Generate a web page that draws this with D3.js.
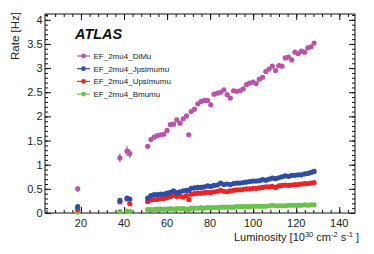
<!DOCTYPE html>
<html>
<head>
<meta charset="utf-8">
<script src="https://cdn.jsdelivr.net/npm/d3@7"></script>
<style>
  body { margin: 0; background: #fff; }
  text { font-family: "Liberation Sans", Arial, sans-serif; }
</style>
</head>
<body>
<div id="chart"></div>
<script>
// Data
const lumi = [18.5, 38.1, 41.4, 42.7,
  51.0, 52.5, 54.0, 55.5, 57.0, 58.5, 60.0, 61.5, 63.0, 64.5, 66.0, 67.5, 69.0, 70.1, 71.2, 72.7,
  74.3, 75.8, 77.3, 78.8, 80.3, 81.8, 83.4, 84.9, 86.4, 87.9, 89.4, 90.9, 92.4, 93.9, 95.4, 96.9,
  98.4, 99.9, 101.4, 102.9, 104.4, 105.9, 107.4, 108.9, 110.4, 111.9, 113.4, 114.9, 116.4, 117.9,
  119.4, 120.9, 122.4, 123.9, 125.4, 126.9, 128.3];

const diMu = [0.50, 1.14, 1.28, 1.23,
  1.38, 1.52, 1.57, 1.60, 1.62, 1.63, 1.71, 1.83, 1.84, 1.93, 1.86, 1.95, 2.01, 1.62, 2.10, 2.15,
  2.26, 2.31, 2.33, 2.33, 2.24, 2.46, 2.48, 2.50, 2.55, 2.45, 2.38, 2.53, 2.52, 2.53, 2.57, 2.66,
  2.69, 2.71, 2.68, 2.77, 2.81, 2.93, 2.98, 3.04, 2.95, 3.05, 3.04, 3.21, 3.23, 3.17,
  3.33, 3.30, 3.35, 3.33, 3.42, 3.44, 3.52];
// visible error bars on the low-lumi DiMu points only
const diMuErr = [0.06, 0.09, 0.10, 0.09];

const jpsi = [0.13, 0.26, 0.31, 0.29,
  0.31, 0.36, 0.38, 0.38, 0.39, 0.39, 0.41, 0.43, 0.46, 0.42, 0.44, 0.46, 0.47, 0.47, 0.51, 0.52,
  0.53, 0.53, 0.54, 0.56, 0.55, 0.57, 0.58, 0.62, 0.59, 0.60, 0.59, 0.61, 0.62, 0.62, 0.63, 0.64,
  0.65, 0.66, 0.66, 0.67, 0.69, 0.68, 0.70, 0.72, 0.71, 0.73, 0.75, 0.77, 0.76, 0.78,
  0.78, 0.79, 0.79, 0.81, 0.82, 0.84, 0.86];

const upsi = [0.07, 0.23, 0.29, 0.19,
  0.24, 0.27, 0.28, 0.28, 0.30, 0.30, 0.32, 0.34, 0.36, 0.34, 0.35, 0.33, 0.36, 0.28, 0.39, 0.40,
  0.41, 0.41, 0.42, 0.43, 0.42, 0.44, 0.45, 0.47, 0.45, 0.44, 0.46, 0.47, 0.48, 0.48, 0.49, 0.50,
  0.50, 0.51, 0.51, 0.52, 0.53, 0.54, 0.54, 0.55, 0.53, 0.56, 0.57, 0.58, 0.57, 0.58,
  0.59, 0.59, 0.60, 0.61, 0.61, 0.62, 0.63];

const bmumu = [0.02, 0.03, 0.04, 0.03,
  0.07, 0.07, 0.07, 0.08, 0.08, 0.08, 0.08, 0.09, 0.08, 0.09, 0.09, 0.09, 0.08, 0.07, 0.10, 0.10,
  0.10, 0.11, 0.10, 0.11, 0.11, 0.11, 0.11, 0.12, 0.12, 0.12, 0.12, 0.12, 0.13, 0.13, 0.13, 0.13,
  0.13, 0.14, 0.14, 0.14, 0.14, 0.14, 0.15, 0.16, 0.15, 0.15, 0.15, 0.15, 0.16, 0.16,
  0.16, 0.16, 0.16, 0.17, 0.16, 0.17, 0.17];

const seriesNames = ["EF_2mu4_DiMu", "EF_2mu4_Jpsimumu", "EF_2mu4_Upsimumu", "EF_2mu4_Bmumu"];
const seriesColors = ["#b955a8", "#2d4ea3", "#ec2326", "#6cc24a"];
const xTicks = [20, 40, 60, 80, 100, 120, 140];
const yTicks = [0, 0.5, 1, 1.5, 2, 2.5, 3, 3.5, 4];

// Set Dimensions
const width = 374, height = 254;
const margin = {left: 45, right: 19, top: 14, bottom: 41};
const xMax = width - margin.left - margin.right;
const yMax = height - margin.top - margin.bottom;

var svg = d3.select("#chart")
  .append("svg")
  .attr("width", width)
  .attr("height", height)
  .append("g")
  .attr("transform", "translate(" + margin.left + "," + margin.top + ")");

var xScale = d3.scaleLinear().domain([3.3, 147.3]).range([0, xMax]);
var yScale = d3.scaleLinear().domain([0, 4.12]).range([yMax, 0]);

// ROOT style ticks, pointing inward on all four sides
var minorX = d3.range(4, 147.3, 4);
var minorY = d3.range(0, 4.12, 0.1);

// bottom
svg.append("g").attr("transform", "translate(0," + yMax + ")")
  .call(d3.axisTop(xScale).tickValues(minorX).tickSize(3).tickFormat(""));
svg.append("g").attr("transform", "translate(0," + yMax + ")")
  .call(d3.axisTop(xScale).tickValues(xTicks).tickSize(6).tickFormat(""));
// top
svg.append("g")
  .call(d3.axisBottom(xScale).tickValues(minorX).tickSize(3).tickFormat(""));
svg.append("g")
  .call(d3.axisBottom(xScale).tickValues(xTicks).tickSize(6).tickFormat(""));
// left
svg.append("g")
  .call(d3.axisRight(yScale).tickValues(minorY).tickSize(3).tickFormat(""));
svg.append("g")
  .call(d3.axisRight(yScale).tickValues(yTicks).tickSize(6).tickFormat(""));
// right
svg.append("g").attr("transform", "translate(" + xMax + ",0)")
  .call(d3.axisLeft(yScale).tickValues(minorY).tickSize(3).tickFormat(""));
svg.append("g").attr("transform", "translate(" + xMax + ",0)")
  .call(d3.axisLeft(yScale).tickValues(yTicks).tickSize(6).tickFormat(""));

svg.selectAll(".domain").remove();
svg.selectAll(".tick line").attr("stroke", "#111").attr("stroke-width", 1);

// frame
svg.append("rect")
  .attr("x", 0).attr("y", 0)
  .attr("width", xMax).attr("height", yMax)
  .attr("fill", "none").attr("stroke", "#111").attr("stroke-width", 1);

// tick labels
svg.selectAll(".xlab")
  .data(xTicks).enter().append("text")
  .attr("x", function(d) { return xScale(d); })
  .attr("y", yMax + 14)
  .attr("text-anchor", "middle")
  .attr("font-size", "11px")
  .attr("fill", "#222")
  .text(function(d) { return d; });

svg.selectAll(".ylab")
  .data(yTicks).enter().append("text")
  .attr("x", -2.5)
  .attr("y", function(d) { return yScale(d) + 4; })
  .attr("text-anchor", "end")
  .attr("font-size", "11px")
  .attr("fill", "#222")
  .text(function(d) { return d; });

// axis titles
var xt = svg.append("text")
  .attr("x", xMax + 4)
  .attr("y", yMax + 28)
  .attr("text-anchor", "end")
  .attr("font-size", "11px")
  .attr("fill", "#222");
xt.append("tspan").text("Luminosity [10");
xt.append("tspan").attr("dy", -4.5).attr("font-size", "7.5px").text("30");
xt.append("tspan").attr("dy", 4.5).text(" cm");
xt.append("tspan").attr("dy", -4.5).attr("font-size", "7.5px").text("-2");
xt.append("tspan").attr("dy", 4.5).text(" s");
xt.append("tspan").attr("dy", -4.5).attr("font-size", "7.5px").text("-1");
xt.append("tspan").attr("dy", 4.5).text(" ]");

svg.append("text")
  .attr("transform", "translate(" + (-26.5) + ",-2) rotate(-90)")
  .attr("text-anchor", "end")
  .attr("font-size", "11.5px")
  .attr("fill", "#222")
  .text("Rate [Hz]");

// ATLAS label
svg.append("text")
  .attr("x", 30).attr("y", 24.5)
  .attr("font-size", "14.5px")
  .attr("font-weight", "bold")
  .attr("font-style", "italic")
  .attr("fill", "#111")
  .text("ATLAS");

// points
var allSeries = [diMu, jpsi, upsi, bmumu];
// draw from bottom of the legend up so DiMu sits on top
[3, 2, 1, 0].forEach(function(s) {
  var pts = lumi.map(function(l, i) { return {x: l, y: allSeries[s][i], e: s === 0 ? diMuErr[i] : undefined}; });
  var g = svg.append("g");
  g.selectAll("line")
    .data(pts.filter(function(d) { return d.e; }))
    .enter().append("line")
    .attr("x1", function(d) { return xScale(d.x); })
    .attr("x2", function(d) { return xScale(d.x); })
    .attr("y1", function(d) { return yScale(d.y - d.e); })
    .attr("y2", function(d) { return yScale(d.y + d.e); })
    .attr("stroke", seriesColors[s])
    .attr("stroke-width", 1.2);
  g.selectAll("circle")
    .data(pts)
    .enter().append("circle")
    .attr("cx", function(d) { return xScale(d.x); })
    .attr("cy", function(d) { return yScale(d.y); })
    .attr("r", 2.6)
    .attr("fill", seriesColors[s]);
});

// legend
var legend = svg.selectAll(".legend")
  .data(seriesNames).enter().append("g")
  .attr("transform", function(d, i) { return "translate(32," + (42 + i * 12.7) + ")"; });
legend.append("line")
  .attr("x1", 0).attr("x2", 13)
  .attr("stroke", function(d, i) { return seriesColors[i]; })
  .attr("stroke-width", 1.2);
legend.append("circle")
  .attr("cx", 6.5).attr("r", 2.4)
  .attr("fill", function(d, i) { return seriesColors[i]; });
legend.append("text")
  .attr("x", 16.5).attr("y", 2.9)
  .attr("font-size", "8px")
  .attr("fill", "#222")
  .text(function(d) { return d; });
</script>
</body>
</html>
